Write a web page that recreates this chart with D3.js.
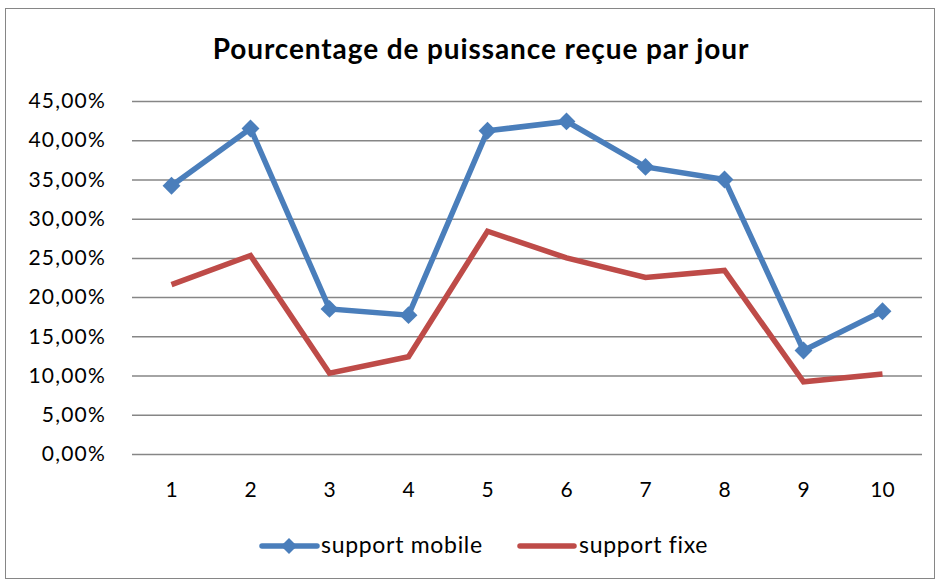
<!DOCTYPE html>
<html><head><meta charset="utf-8">
<script src="https://d3js.org/d3.v7.min.js"></script>
<style>body{margin:0;background:#fff}svg{display:block}</style>
</head><body>
<script>
const categories = ["1","2","3","4","5","6","7","8","9","10"];
const mobile = [34.2, 41.5, 18.5, 17.7, 41.2, 42.4, 36.6, 35.0, 13.2, 18.2];
const fixe = [21.6, 25.3, 10.3, 12.4, 28.4, 25.0, 22.5, 23.4, 9.2, 10.2];
const yTicks = [0,5,10,15,20,25,30,35,40,45];
const title = "Pourcentage de puissance reçue par jour";
const seriesNames = ["support mobile","support fixe"];

const W = 940, H = 581;
const font = "Lato, 'Open Sans', sans-serif";
const svg = d3.select("body").append("svg").attr("width", W).attr("height", H);
svg.append("rect").attr("x",5.5).attr("y",8.5).attr("width",929).attr("height",570)
  .attr("fill","#fff").attr("stroke","#868686").attr("stroke-width",1);

const x = d3.scaleBand().domain(categories).range([132, 922]);
const y = d3.scaleLinear().domain([0,45]).range([454, 101]);

svg.append("text").attr("x",481).attr("y",59).attr("text-anchor","middle")
  .attr("font-family",font).attr("font-weight","bold").attr("font-size",28)
  .attr("letter-spacing",0.9).text(title);

const yAxis = d3.axisLeft(y).tickValues(yTicks).tickSize(-(922-132)).tickPadding(26)
  .tickFormat(d => d3.format(".2f")(d).replace(".",",") + "%");
const gy = svg.append("g").attr("transform","translate(132,0)").call(yAxis);
gy.select(".domain").remove();
gy.selectAll(".tick line").attr("stroke","#868686").attr("stroke-width",1.5);
gy.selectAll(".tick text").attr("font-family",font).attr("font-size",21)
  .attr("letter-spacing",1.2).attr("fill","#000");

const xAxis = d3.axisBottom(x).tickSize(0).tickPadding(28);
const gx = svg.append("g").attr("transform","translate(0,454)").call(xAxis);
gx.select(".domain").remove();
gx.selectAll(".tick text").attr("font-family",font).attr("font-size",21).attr("fill","#000");

const cx = d => x(d) + x.bandwidth()/2;
const line = d3.line().x((d,i)=>cx(categories[i])).y(d=>y(d));
const blue = "#4A7EBB", red = "#BE4B48";

svg.append("path").datum(fixe).attr("d",line).attr("fill","none").attr("stroke",red)
  .attr("stroke-width",5.5).attr("stroke-linejoin","miter");
svg.append("path").datum(mobile).attr("d",line).attr("fill","none").attr("stroke",blue)
  .attr("stroke-width",5.5).attr("stroke-linejoin","miter");
const diamond = d3.symbol().type(d3.symbolSquare).size(160);
svg.selectAll(".mk").data(mobile).join("path")
  .attr("transform",(d,i)=>`translate(${cx(categories[i])},${y(d)}) rotate(45)`)
  .attr("d",diamond()).attr("fill",blue);

// legend
const lg = svg.append("g");
lg.append("line").attr("x1",262).attr("x2",317).attr("y1",546).attr("y2",546)
  .attr("stroke",blue).attr("stroke-width",5.5).attr("stroke-linecap","round");
lg.append("path").attr("transform","translate(289,546) rotate(45)")
  .attr("d",d3.symbol().type(d3.symbolSquare).size(130)()).attr("fill",blue);
lg.append("text").attr("x",321).attr("y",553).attr("font-family",font).attr("font-size",23)
  .attr("letter-spacing",0.7).text(seriesNames[0]);
lg.append("line").attr("x1",520).attr("x2",574).attr("y1",546).attr("y2",546)
  .attr("stroke",red).attr("stroke-width",5.5).attr("stroke-linecap","round");
lg.append("text").attr("x",579).attr("y",553).attr("font-family",font).attr("font-size",23)
  .attr("letter-spacing",0.7).text(seriesNames[1]);
</script>
</body></html>
